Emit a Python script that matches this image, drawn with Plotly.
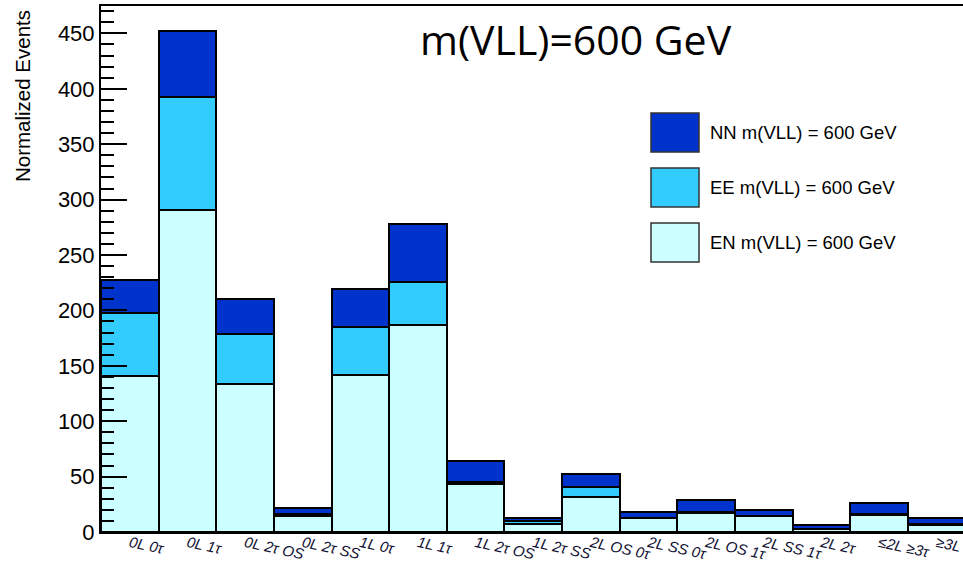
import plotly.graph_objects as go

categories = ["0L 0τ", "0L 1τ", "0L 2τ OS", "0L 2τ SS", "1L 0τ", "1L 1τ",
              "1L 2τ OS", "1L 2τ SS", "2L OS 0τ", "2L SS 0τ", "2L OS 1τ",
              "2L SS 1τ", "2L 2τ", "≤2L ≥3τ", "≥3L"]
en_values = [141, 291, 134, 14, 142, 187, 43, 7.5, 32, 12.5, 17, 14, 2.5, 15, 6.5]
ee_values = [57, 102, 45, 2.5, 43, 39, 2, 2.5, 9, 0.5, 1, 0.8, 0.5, 1.5, 0.5]
nn_values = [29, 59, 31, 5.5, 34, 52, 19, 3, 11, 5.5, 11, 5.3, 3.5, 9.5, 5.5]
series_names = ["NN m(VLL) = 600 GeV", "EE m(VLL) = 600 GeV", "EN m(VLL) = 600 GeV"]
series_colors = ["#0033CC", "#33CCFF", "#CCFFFF"]
title_text = "m(VLL)=600 GeV"
y_title = "Normalized Events"
y_ticks = [0, 50, 100, 150, 200, 250, 300, 350, 400, 450]

W, H = 963, 565
ML, MR, MT, MB = 101, 0, 6, 33
pw, ph = W - ML - MR, H - MT - MB
bin_px = 57.64
xr = [-0.5, -0.5 + pw / bin_px]
y_scale = 1.108
yr = [0, ph / y_scale]

xs = list(range(len(categories)))
fig = go.Figure()
for vals, name, col in [(en_values, series_names[2], series_colors[2]),
                        (ee_values, series_names[1], series_colors[1]),
                        (nn_values, series_names[0], series_colors[0])]:
    fig.add_trace(go.Bar(x=xs, y=vals, name=name, width=1.0,
                         marker=dict(color=col, line=dict(color="black", width=2)),
                         showlegend=False))


def px2x(p):
    return (p - ML) / pw


def py2y(p):
    return (H - MB - p) / ph


shapes = []
annotations = []
# legend (drawn manually for ROOT-like large boxes)
for i, (name, col) in enumerate(zip(series_names, series_colors)):
    top = 113 + 55 * i
    shapes.append(dict(type="rect", xref="paper", yref="paper",
                       x0=px2x(651), x1=px2x(699), y0=py2y(top + 39), y1=py2y(top),
                       fillcolor=col, line=dict(color="#333333", width=1.5)))
    annotations.append(dict(text=name, xref="paper", yref="paper",
                            x=px2x(708), y=py2y(top + 19.5), xanchor="left", yanchor="middle",
                            showarrow=False, font=dict(family="Liberation Sans", size=18.5, color="black")))

annotations.append(dict(text=title_text, xref="paper", yref="paper",
                        x=px2x(418), y=py2y(39), xanchor="left", yanchor="middle",
                        showarrow=False, font=dict(family="Open Sans", size=41, color="black")))
annotations.append(dict(text=y_title, xref="paper", yref="paper",
                        x=px2x(22), y=py2y(8), xanchor="center", yanchor="top", textangle=-90,
                        showarrow=False, font=dict(family="Liberation Sans", size=20.5, color="black")))

fig.update_layout(
    width=W, height=H, margin=dict(l=ML, r=MR, t=MT, b=MB),
    paper_bgcolor="white", plot_bgcolor="white",
    barmode="stack", bargap=0,
    shapes=shapes, annotations=annotations,
    xaxis=dict(range=xr, tickmode="array", tickvals=xs, ticktext=categories,
               tickangle=12, ticks="", showgrid=False, zeroline=False,
               showline=True, linecolor="black", linewidth=2, mirror=True,
               automargin=False, ticklabelstandoff=-5, ticklabeloverflow="allow",
               tickfont=dict(family="Liberation Sans", size=15, color="#111133", style="italic")),
    yaxis=dict(range=yr, tickmode="array", tickvals=y_ticks, ticks="inside", ticklen=26,
               tickwidth=1.5, tickcolor="black", showgrid=False, zeroline=False,
               showline=True, linecolor="black", linewidth=2, mirror=True, automargin=False,
               minor=dict(ticks="inside", ticklen=13, dtick=10, tickcolor="black", tickwidth=1.5, showgrid=False),
               tickfont=dict(family="Liberation Sans", size=22, color="black")),
)

fig.write_html("out.html")
